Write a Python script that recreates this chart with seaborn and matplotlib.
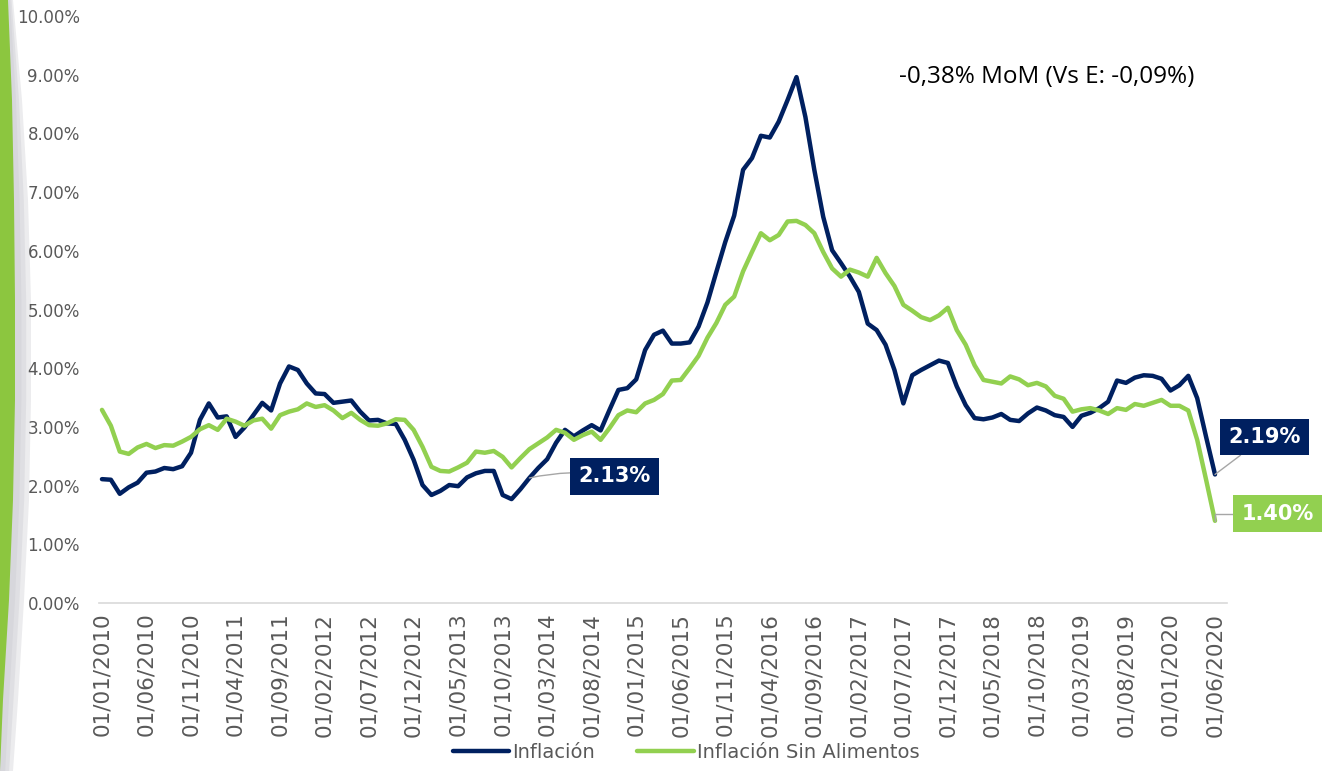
import numpy as np
import pandas as pd
import matplotlib
matplotlib.use('Agg')
import matplotlib.pyplot as plt
import seaborn as sns

# monthly series, 01/01/2010 .. 01/06/2020 (values in %)
inflacion = [
    2.11, 2.10, 1.86, 1.97, 2.05, 2.22, 2.24, 2.30, 2.28, 2.33,
    2.56, 3.12, 3.40, 3.16, 3.18, 2.83, 2.99, 3.20, 3.41, 3.28,
    3.74, 4.03, 3.97, 3.74, 3.57, 3.56, 3.41, 3.43, 3.45, 3.26,
    3.11, 3.12, 3.06, 3.05, 2.78, 2.44, 2.01, 1.84, 1.91, 2.01,
    1.99, 2.14, 2.21, 2.25, 2.25, 1.84, 1.77, 1.94, 2.13, 2.30,
    2.45, 2.73, 2.95, 2.84, 2.94, 3.03, 2.94, 3.29, 3.63, 3.66,
    3.81, 4.31, 4.57, 4.64, 4.42, 4.42, 4.44, 4.71, 5.12, 5.64,
    6.15, 6.60, 7.38, 7.58, 7.96, 7.93, 8.20, 8.57, 8.96, 8.28,
    7.38, 6.58, 6.01, 5.79, 5.56, 5.30, 4.76, 4.65, 4.40, 3.97,
    3.40, 3.88, 3.97, 4.05, 4.13, 4.09, 3.69, 3.37, 3.15, 3.13,
    3.16, 3.22, 3.12, 3.10, 3.23, 3.33, 3.28, 3.20, 3.17, 3.00,
    3.19, 3.24, 3.32, 3.43, 3.79, 3.75, 3.84, 3.88, 3.87, 3.82,
    3.62, 3.71, 3.87, 3.49, 2.83, 2.19,
]
sin_alimentos = [
    3.29, 3.02, 2.58, 2.54, 2.65, 2.71, 2.64, 2.69, 2.68, 2.75,
    2.83, 2.96, 3.03, 2.95, 3.14, 3.09, 3.02, 3.11, 3.14, 2.97,
    3.20, 3.26, 3.30, 3.40, 3.34, 3.37, 3.28, 3.15, 3.24, 3.12,
    3.03, 3.02, 3.06, 3.13, 3.12, 2.95, 2.66, 2.32, 2.25, 2.24,
    2.31, 2.39, 2.58, 2.56, 2.59, 2.49, 2.31, 2.47, 2.62, 2.72,
    2.82, 2.95, 2.90, 2.78, 2.86, 2.92, 2.78, 2.98, 3.20, 3.28,
    3.25, 3.40, 3.46, 3.56, 3.79, 3.80, 4.00, 4.21, 4.52, 4.77,
    5.08, 5.22, 5.65, 5.98, 6.30, 6.18, 6.27, 6.50, 6.51, 6.44,
    6.30, 5.98, 5.70, 5.56, 5.68, 5.63, 5.56, 5.88, 5.62, 5.40,
    5.08, 4.98, 4.87, 4.82, 4.90, 5.03, 4.65, 4.40, 4.05, 3.80,
    3.77, 3.74, 3.86, 3.81, 3.71, 3.75, 3.69, 3.53, 3.48, 3.26,
    3.30, 3.32, 3.28, 3.22, 3.32, 3.29, 3.39, 3.36, 3.41, 3.46,
    3.36, 3.36, 3.28, 2.78, 2.10, 1.40,
]
series = ['Inflación', 'Inflación Sin Alimentos']
fechas = pd.date_range('2010-01-01', periods=len(inflacion), freq='MS')
etiquetas = [f.strftime('%d/%m/%Y') for f in fechas]

navy = '#002060'
green = '#92D050'
grey_txt = '#595959'

df = pd.DataFrame({'mes': np.arange(len(inflacion)),
                   series[0]: inflacion,
                   series[1]: sin_alimentos})
df = df.melt(id_vars='mes', var_name='serie', value_name='valor')

sns.set_style('white')
plt.rcParams['font.family'] = ['DejaVu Sans']

fig = plt.figure(figsize=(13.32, 7.71), dpi=100)
fig.patch.set_facecolor('white')

# left side decoration (green swoosh with grey shadow)
deco = fig.add_axes([0, 0, 1, 1], zorder=-1)
deco.set_xlim(0, 1332)
deco.set_ylim(771, 0)
deco.axis('off')
yy = np.array([0, 100, 200, 300, 400, 500, 600, 700, 771])
shadow = np.array([13, 22, 28, 31, 31, 29, 24, 18, 13])
green_edge = np.array([8, 12, 14, 15, 15, 13, 9, 3, 0])
for k in [1.0, 0.7, 0.4]:
    deco.fill_betweenx(yy, 0, shadow * k + green_edge * (1 - k), color='#c9c9cf', alpha=0.35, lw=0)
deco.fill_betweenx(yy, 0, green_edge, color='#8cc63f', lw=0)

ax = fig.add_axes([0.07455, 0.2179, 0.8463, 0.7613])
ax.patch.set_alpha(0)
sns.lineplot(data=df, x='mes', y='valor', hue='serie', palette=[navy, green],
             linewidth=3.2, ax=ax)

ax.set_xlim(-0.3, 126.3)
ax.set_ylim(0, 10)
ax.set_xlabel('')
ax.set_ylabel('')
ax.set_yticks(np.arange(0, 11, 1))
ax.set_yticklabels([f'{v:.2f}%' for v in np.arange(0, 11, 1)], fontsize=12, color=grey_txt)
ax.set_xticks(np.arange(0, len(etiquetas), 5))
ax.set_xticklabels(etiquetas[::5], rotation=90, fontsize=15.5, color=grey_txt)
ax.tick_params(axis='y', length=0, pad=14)
ax.tick_params(axis='x', length=5, color='#d9d9d9', width=1, pad=2)
for s in ['left', 'right', 'top']:
    ax.spines[s].set_visible(False)
ax.spines['bottom'].set_color('#d9d9d9')
ax.spines['bottom'].set_linewidth(1.2)

handles, labels = ax.get_legend_handles_labels()
ax.get_legend().remove()
fig.legend(handles, labels, loc='center', bbox_to_anchor=(0.515, 0.024), ncol=2,
           frameon=False, fontsize=14, handlelength=2.9, handletextpad=0.15,
           columnspacing=2.2, labelcolor=grey_txt)

# value callouts
box_kw = dict(ha='center', va='center', fontsize=15, fontweight='bold', color='white',
              annotation_clip=False)
ax.annotate('2.13%', xy=(48, inflacion[48]), xytext=(57.6, 2.16),
            bbox=dict(boxstyle='square,pad=0.4', fc=navy, ec='none'),
            arrowprops=dict(arrowstyle='-', color='#a6a6a6', lw=1, shrinkA=0, shrinkB=0,
                            connectionstyle='arc3,rad=0.1'), **box_kw)
ax.annotate('2.19%', xy=(125, inflacion[-1]), xytext=(130.6, 2.83),
            bbox=dict(boxstyle='square,pad=0.4', fc=navy, ec='none'),
            arrowprops=dict(arrowstyle='-', color='#a6a6a6', lw=1, shrinkA=0, shrinkB=0),
            **box_kw)
ax.annotate('1.40%', xy=(125, sin_alimentos[-1]), xytext=(132.0, 1.52),
            bbox=dict(boxstyle='square,pad=0.4', fc=green, ec='none'),
            arrowprops=dict(arrowstyle='-', color='#a6a6a6', lw=1, shrinkA=0, shrinkB=0,
                            connectionstyle='angle,angleA=0,angleB=90,rad=0'),
            **box_kw)

fig.text(0.786, 0.9, '-0,38% MoM (Vs E: -0,09%)', ha='center', va='center',
         fontsize=17.5, color='black', family=['Open Sans', 'DejaVu Sans'])

fig.savefig('out.png', dpi=100)
